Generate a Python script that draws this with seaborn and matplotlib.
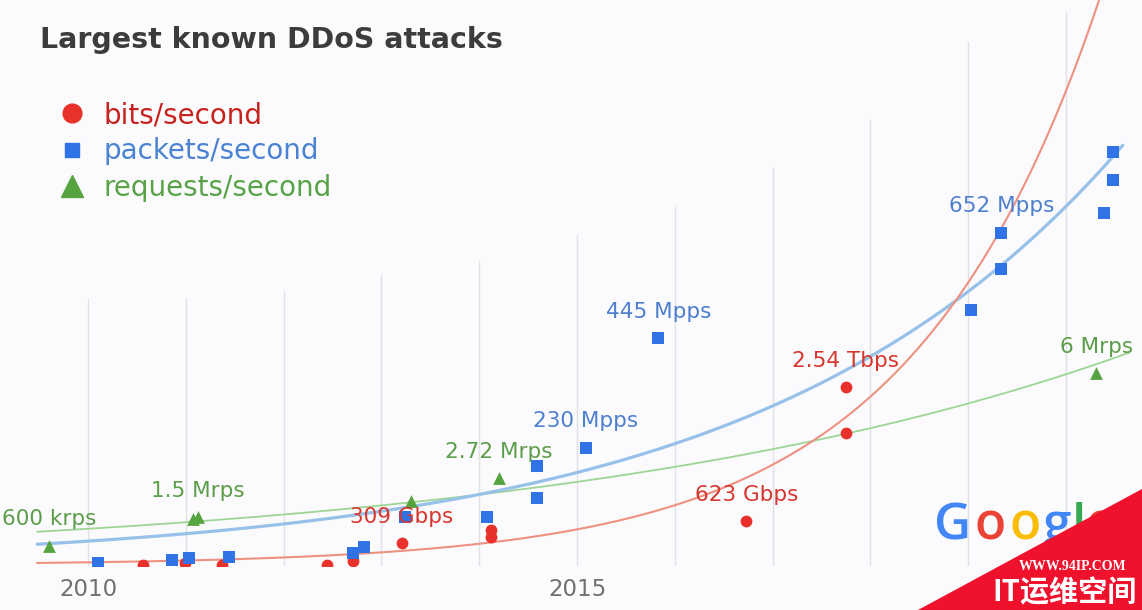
import numpy as np
import pandas as pd
import seaborn as sns
import matplotlib.pyplot as plt
from matplotlib.lines import Line2D
from matplotlib.patches import Polygon

# ---- data ----
# bits/second (Gbps)
bits_year = [2010.56, 2010.99, 2011.37, 2012.44, 2012.71, 2013.21, 2014.12, 2014.12, 2016.73, 2017.75, 2017.75]
bits_gbps = [5, 25, 5, 5, 50, 309, 500, 400, 623, 2540, 1880]
bits_label = ['', '', '', '', '', '309 Gbps', '', '', '623 Gbps', '2.54 Tbps', '']

# packets/second (Mpps)
pps_year = [2010.10, 2010.86, 2011.03, 2011.44, 2012.71, 2012.82, 2013.24, 2014.08, 2014.59,
            2014.59, 2015.09, 2015.83, 2019.03, 2019.34, 2019.34, 2020.39, 2020.48, 2020.48]
pps_mpps = [4, 10, 14, 16, 24, 35, 94, 94, 132, 194, 230, 445, 500, 581, 652, 691, 756, 811]
pps_label = ['', '', '', '', '', '', '', '', '', '', '230 Mpps', '445 Mpps', '', '', '652 Mpps', '', '', '']

# requests/second (Mrps)
rps_year = [2009.60, 2011.07, 2011.12, 2013.30, 2014.20, 2020.31]
rps_mrps = [0.6, 1.45, 1.5, 2.0, 2.72, 6.0]
rps_label = ['600 krps', '', '1.5 Mrps', '', '2.72 Mrps', '6 Mrps']

# trend curves, sampled along the drawn lines
bits_trend_year = [2009.48, 2012.17, 2013.19, 2015.24, 2016.19, 2017.08, 2017.76, 2018.10, 2018.89, 2019.33, 2019.97, 2020.32]
bits_trend_gbps = [14, 114, 186, 571, 956, 1527, 2069, 2597, 3824, 4823, 6636, 7920]
pps_trend_year = [2009.48, 2012.65, 2015.24, 2016.05, 2017.08, 2018.10, 2019.02, 2019.81, 2020.58]
pps_trend_mpps = [41, 96, 194, 239, 324, 426, 526, 663, 834]
rps_trend_year = [2009.48, 2012.07, 2013.19, 2015.24, 2017.08, 2018.10, 2019.02, 2020.01, 2020.65]
rps_trend_mrps = [1.06, 1.44, 1.94, 2.69, 3.81, 4.53, 5.09, 5.88, 6.5]

# each series has its own (hidden) vertical scale: value at the top of the plot
full_scale = {'bits': 8063, 'pps': 1109, 'rps': 17.66}

# colours
red_pt, blue_pt, green_pt = '#e8312a', '#2f73e6', '#55a440'
red_txt, blue_txt, green_txt = '#d8352c', '#4c7fcf', '#5c9d49'
red_ln, blue_ln, green_ln = '#ee9180', '#98c1ea', '#9dd694'
bg = '#fbfbfd'

sns.set_theme(style='white')
plt.rcParams['font.family'] = ['DejaVu Sans']

fig = plt.figure(figsize=(11.42, 6.10), dpi=100, facecolor=bg)
ax = fig.add_axes([0, 44 / 610, 1, 566 / 610])
ax.set_facecolor('none')

# vertical year grid, fading out at different heights
grid_years = list(range(2010, 2021))
grid_tops = [0.471, 0.474, 0.485, 0.515, 0.538, 0.584, 0.635, 0.704, 0.788, 0.926, 0.979]
for yr, top in zip(grid_years, grid_tops):
    ax.axvline(yr, 0, top, color='#e1e1e6', lw=1, zorder=0)


def trend(years, vals, key, color, lw, t_end=None):
    t = np.array(years)
    v = np.array(vals, dtype=float)
    coef = np.polyfit(t, np.log(v), 1, w=np.sqrt(v))
    tt = np.linspace(t[0], t_end if t_end else t[-1], 300)
    d = pd.DataFrame({'year': tt, 'h': np.exp(np.polyval(coef, tt)) / full_scale[key]})
    sns.lineplot(data=d, x='year', y='h', color=color, lw=lw, ax=ax, zorder=2)


trend(rps_trend_year, rps_trend_mrps, 'rps', green_ln, 1.3)
trend(pps_trend_year, pps_trend_mpps, 'pps', blue_ln, 2.3)
trend(bits_trend_year, bits_trend_gbps, 'bits', red_ln, 1.5, t_end=2020.6)

bits = pd.DataFrame({'year': bits_year, 'h': np.array(bits_gbps) / full_scale['bits'], 'label': bits_label})
pps = pd.DataFrame({'year': pps_year, 'h': np.array(pps_mpps) / full_scale['pps'], 'label': pps_label})
rps = pd.DataFrame({'year': rps_year, 'h': np.array(rps_mrps) / full_scale['rps'], 'label': rps_label})

sns.scatterplot(data=bits, x='year', y='h', marker='o', s=72, color=red_pt, linewidth=0, ax=ax, zorder=3)
sns.scatterplot(data=pps, x='year', y='h', marker='s', s=64, color=blue_pt, linewidth=0, ax=ax, zorder=4)
sns.scatterplot(data=rps, x='year', y='h', marker='^', s=85, color=green_pt, linewidth=0, ax=ax, zorder=5)

for df, col in [(bits, red_txt), (pps, blue_txt), (rps, green_txt)]:
    for _, r in df[df['label'] != ''].iterrows():
        ax.annotate(r['label'], xy=(r['year'], r['h']), xytext=(0, 19), textcoords='offset points',
                    ha='center', va='center', fontsize=15.5, color=col, zorder=6)

ax.set_xlim(2009.10, 2020.777)
ax.set_ylim(-1 / 565, 1.0)
ax.set_xticks([2010, 2015])
ax.set_xticklabels(['2010', '2015'])
ax.set_yticks([])
ax.tick_params(axis='x', length=0, pad=9, labelsize=16.5, labelcolor='#707070')
ax.set_xlabel('')
ax.set_ylabel('')
for s in ax.spines.values():
    s.set_visible(False)

# title and legend
fig.text(40 / 1142, 1 - 40 / 610, 'Largest known DDoS attacks', fontsize=20.5, fontweight='bold',
         color='#3c3c3c', va='center')
handles = [Line2D([], [], marker='o', ls='', color=red_pt, markersize=13.5),
           Line2D([], [], marker='s', ls='', color=blue_pt, markersize=10.5),
           Line2D([], [], marker='^', ls='', color=green_pt, markersize=16)]
ax.legend(handles, ['bits/second', 'packets/second', 'requests/second'],
          loc='upper left', bbox_to_anchor=(58 / 1142, 1 - 101 / 610), bbox_transform=fig.transFigure,
          frameon=False, borderpad=0, borderaxespad=0, handlelength=1.0, handletextpad=0.62,
          labelspacing=0.3, fontsize=20, labelcolor=['#c8221d', '#4a82d4', '#58a247'])

# Google logo
for ch, x, c in [('G', 953, '#4285f4'), ('o', 990, '#ea4335'), ('o', 1025, '#fbbc05'),
                 ('g', 1057, '#4285f4'), ('l', 1079, '#34a853'), ('e', 1100, '#ea4335')]:
    fig.text(x / 1142, 1 - 540 / 610, ch, fontsize=37, color=c, ha='center', va='baseline',
             family='Open Sans', fontweight='semibold', zorder=1)

# site watermark corner
fig.patches.append(Polygon([(918 / 1142, 0), (1, 1 - 489 / 610), (1, 0)], closed=True,
                           transform=fig.transFigure, facecolor='#f0122c', edgecolor='none', zorder=2))
fig.text(1073 / 1142, 1 - 567 / 610, 'WWW.94IP.COM', color='white', fontsize=10, fontweight='bold',
         family='Liberation Serif', ha='center', va='center', zorder=3)
fig.text(1065 / 1142, 1 - 592 / 610, 'IT运维空间', color='white', fontsize=21, fontweight='bold',
         family=['Noto Sans CJK SC', 'DejaVu Sans'], ha='center', va='center', zorder=3)

fig.savefig('out.png', dpi=100, facecolor=bg)
plt.close(fig)
